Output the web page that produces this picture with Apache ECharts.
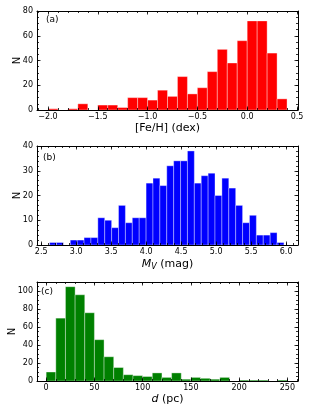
<!DOCTYPE html>
<html><head><meta charset="utf-8">
<script src="https://cdn.jsdelivr.net/npm/echarts@6/dist/echarts.min.js"></script>
<style>html,body{margin:0;padding:0;background:#fff}#c{width:312px;height:416px}</style>
</head><body><div id="c"></div>
<script>
// ---- Data ----
const feBinStart = -2.0, feBinWidth = 0.1;
const feCounts = [1,0,1,5,0,4,4,2,10,10,8,16,11,27,13,18,31,49,38,56,72,72,46,9];
const feXTicks = [-2.0,-1.5,-1.0,-0.5,0.0,0.5];
const feYTicks = [0,20,40,60,80];

const mvBinStart = 2.62, mvBinWidth = 0.0985;
const mvCounts = [1,1,0,2,2,3,3,11,10,7,16,9,11,11,25,27,24,32,34,34,38,25,28,29,20,27,23,16,9,12,4,4,5,1];
const mvXTicks = [2.5,3.0,3.5,4.0,4.5,5.0,5.5,6.0];
const mvYTicks = [0,10,20,30,40];

const dBinStart = 0, dBinWidth = 10;
const dCounts = [10,70,105,96,76,46,27,15,7,6,5,9,4,9,2,4,3,2,4,0,1,1,1,0,1];
const dXTicks = [0,50,100,150,200,250];
const dYTicks = [0,20,40,60,80,100];

const FONT = 'DejaVu Sans';
const fmt1 = v => (v < 0 ? '\u2212' : '') + Math.abs(v).toFixed(1);
const fmt0 = v => String(Math.round(v));

function minorVals(min, max, step) {
  const out = [];
  const s = Math.ceil(min / step - 1e-9);
  for (let k = s; k * step <= max + 1e-9; k++) out.push(+(k * step).toFixed(6));
  return out;
}

const panels = [
  {top: 11, xmin: -2.11, xmax: 0.51, xt: feXTicks, xminor: 0.1, xf: fmt1,
   ymin: 0, ymax: 80, yt: feYTicks, yminor: 5, ngap: 15,
   xname: '[Fe/H] (dex)', label: '(a)', lx: 46, ly: 15,
   start: feBinStart, width: feBinWidth, counts: feCounts, color: '#ff0000'},
  {top: 146, xmin: 2.44, xmax: 6.17, xt: mvXTicks, xminor: 0.1, xf: fmt1,
   ymin: 0, ymax: 40, yt: mvYTicks, yminor: 2, ngap: 15,
   xname: '{i|M}{s|V} (mag)', label: '(b)', lx: 43, ly: 153,
   start: mvBinStart, width: mvBinWidth, counts: mvCounts, color: '#0000ff'},
  {top: 282, xmin: -9.5, xmax: 261, xt: dXTicks, xminor: 10, xf: fmt0,
   ymin: 0, ymax: 110.25, yt: dYTicks, yminor: 5, ngap: 20,
   xname: '{i|d} (pc)', label: '(c)', lx: 41, ly: 287,
   start: dBinStart, width: dBinWidth, counts: dCounts, color: '#008000'}
];

const grids = [], xAxes = [], yAxes = [], series = [], titles = [];
const lineStyle = {color: '#000', width: 1};
const tickStyle = {color: '#000', width: 0.8};

panels.forEach((p, gi) => {
  grids.push({left: 37, right: 14, top: p.top, height: 99, containLabel: false, outerBoundsMode: 'none'});
  const xmin = minorVals(p.xmin, p.xmax, p.xminor);
  const ymin = minorVals(p.ymin, p.ymax, p.yminor);
  ['bottom', 'top'].forEach((pos, k) => {
    xAxes.push({type: 'value', gridIndex: gi, position: pos, min: p.xmin, max: p.xmax, z: 5,
      splitLine: {show: false},
      axisLine: {show: true, onZero: false, lineStyle},
      axisTick: {show: true, inside: true, length: 3.5, customValues: p.xt, lineStyle: tickStyle},
      axisLabel: {show: k === 0, customValues: p.xt, formatter: p.xf, fontSize: 8, color: '#000', margin: 3, fontFamily: FONT},
      name: k === 0 ? p.xname : '', nameLocation: 'middle', nameGap: 13, nameMoveOverlap: false,
      nameTextStyle: {fontSize: 11, color: '#000', fontFamily: FONT,
        rich: {i: {fontStyle: 'italic', fontSize: 11, fontFamily: FONT, color: '#000'},
               s: {fontStyle: 'italic', fontSize: 8, fontFamily: FONT, color: '#000', padding: [5, 0, 0, 0]}}}
    });
    xAxes.push({type: 'value', gridIndex: gi, position: pos, min: p.xmin, max: p.xmax, z: 5,
      splitLine: {show: false}, axisLine: {show: false, onZero: false},
      axisTick: {show: true, inside: true, length: 2, customValues: xmin, lineStyle: tickStyle},
      axisLabel: {show: false}
    });
  });
  ['left', 'right'].forEach((pos, k) => {
    yAxes.push({type: 'value', gridIndex: gi, position: pos, min: p.ymin, max: p.ymax, z: 5,
      splitLine: {show: false},
      axisLine: {show: true, onZero: false, lineStyle},
      axisTick: {show: true, inside: true, length: 3.5, customValues: p.yt, lineStyle: tickStyle},
      axisLabel: {show: k === 0, customValues: p.yt, formatter: fmt0, fontSize: 8, color: '#000', margin: 4, fontFamily: FONT},
      name: k === 0 ? 'N' : '', nameLocation: 'middle', nameGap: p.ngap, nameMoveOverlap: false,
      nameTextStyle: {fontSize: 10, color: '#000', fontFamily: FONT}
    });
    yAxes.push({type: 'value', gridIndex: gi, position: pos, min: p.ymin, max: p.ymax, z: 5,
      splitLine: {show: false}, axisLine: {show: false, onZero: false},
      axisTick: {show: true, inside: true, length: 2, customValues: ymin, lineStyle: tickStyle},
      axisLabel: {show: false}
    });
  });
  const data = p.counts.map((c, i) => [p.start + i * p.width, p.start + (i + 1) * p.width, c]);
  series.push({
    type: 'custom', xAxisIndex: gi * 4, yAxisIndex: gi * 4, z: 1, clip: true,
    encode: {x: [0, 1], y: 2}, data,
    renderItem: (params, api) => {
      const v = api.value(2);
      if (!(v > 0)) return null;
      const a = api.coord([api.value(0), 0]);
      const b = api.coord([api.value(1), v]);
      return {type: 'rect', shape: {x: a[0], y: b[1], width: b[0] - a[0], height: a[1] - b[1]},
        style: {fill: p.color, stroke: 'rgba(255,255,255,0.45)', lineWidth: 0.8}};
    }
  });
  titles.push({text: p.label, left: p.lx, top: p.ly, padding: 0,
    textStyle: {fontSize: 9, fontWeight: 'normal', color: '#000', fontFamily: FONT}});
});

const chart = echarts.init(document.getElementById('c'), null, {renderer: 'canvas'});
chart.setOption({
  animation: false,
  backgroundColor: '#fff',
  textStyle: {fontFamily: FONT},
  title: titles,
  grid: grids, xAxis: xAxes, yAxis: yAxes, series
});
</script></body></html>
